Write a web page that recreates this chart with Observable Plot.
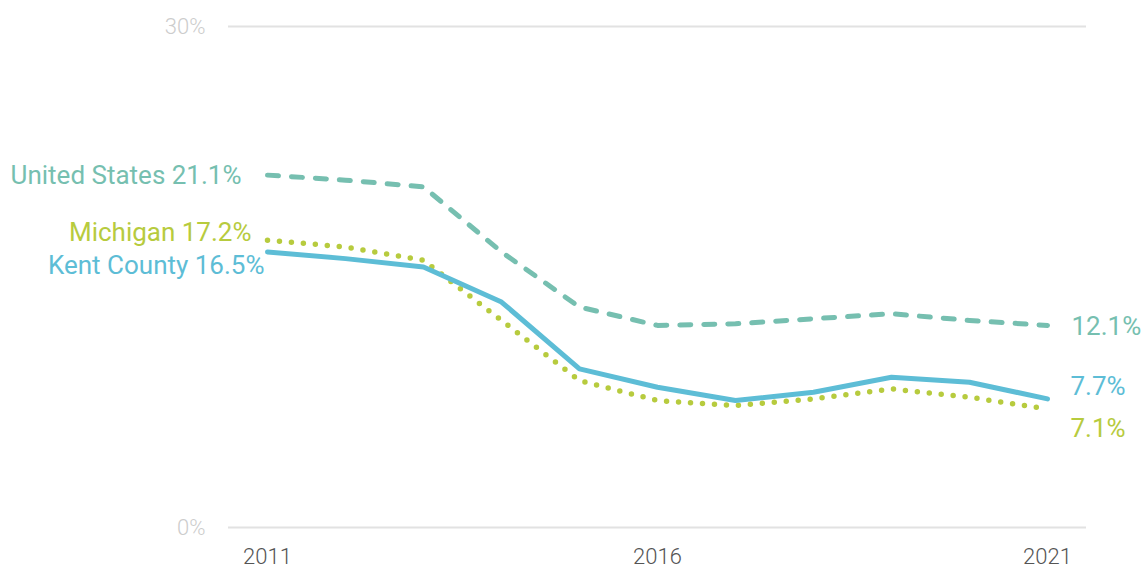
<!DOCTYPE html>
<html>
<head>
<meta charset="utf-8">
<script src="https://cdn.jsdelivr.net/npm/d3@7"></script>
<script src="https://cdn.jsdelivr.net/npm/@observablehq/plot@0.6"></script>
<style>
  html, body { margin: 0; padding: 0; background: #fff; }
  #chart svg { display: block; }
</style>
</head>
<body>
<div id="chart"></div>
<script>
const years = [2011, 2012, 2013, 2014, 2015, 2016, 2017, 2018, 2019, 2020, 2021];
const seriesNames = ["United States", "Michigan", "Kent County"];
const usValues = [21.1, 20.8, 20.4, 16.5, 13.2, 12.1, 12.2, 12.5, 12.8, 12.4, 12.1];
const miValues = [17.2, 16.8, 16.0, 12.4, 8.8, 7.6, 7.3, 7.7, 8.3, 7.8, 7.1];
const kentValues = [16.5, 16.1, 15.6, 13.5, 9.5, 8.4, 7.6, 8.1, 9.0, 8.7, 7.7];
const yTicks = [0, 30];
const xTicks = [2011, 2016, 2021];

const colors = {"United States": "#76bfb0", "Michigan": "#b7cb3e", "Kent County": "#5dbdd6"};

const toRows = (name, vals) => years.map((year, i) => ({name, year, value: vals[i]}));
const us = toRows(seriesNames[0], usValues);
const mi = toRows(seriesNames[1], miValues);
const kent = toRows(seriesNames[2], kentValues);

const first = rows => [rows[0]];
const last = rows => [rows[rows.length - 1]];
const labelFont = {fontSize: 26, fontWeight: 400};

const chart = Plot.plot({
  width: 1145,
  height: 570,
  marginLeft: 228,
  marginRight: 59,
  marginTop: 26,
  marginBottom: 43,
  style: {fontFamily: "Roboto, 'Noto Sans', sans-serif", background: "#fff"},
  x: {domain: [2010.5, 2021.5]},
  y: {domain: [0, 30]},
  marks: [
    Plot.ruleY(yTicks, {stroke: "#e2e2e2", strokeWidth: 2}),
    Plot.axisY({ticks: yTicks, tickFormat: d => d + "%", tickSize: 0, tickPadding: 23, fontSize: 22, fontWeight: 300, fill: "#cccccc", label: null}),
    Plot.axisX({ticks: xTicks, tickFormat: d => String(d), tickSize: 0, tickPadding: 21, fontSize: 22, fontWeight: 300, fill: "#555555", label: null}),
    Plot.line(us, {x: "year", y: "value", stroke: colors["United States"], strokeWidth: 5, strokeDasharray: "11,13", strokeLinecap: "round", strokeLinejoin: "round"}),
    Plot.line(mi, {x: "year", y: "value", stroke: colors["Michigan"], strokeWidth: 5.5, strokeDasharray: "0,12", strokeLinecap: "round", strokeLinejoin: "round"}),
    Plot.line(kent, {x: "year", y: "value", stroke: colors["Kent County"], strokeWidth: 5, strokeLinecap: "round", strokeLinejoin: "round"}),
    Plot.text(first(us), {x: "year", y: "value", text: d => `${d.name} ${d.value.toFixed(1)}%`, textAnchor: "end", dx: -26, dy: 1, fill: colors["United States"], ...labelFont}),
    Plot.text(first(mi), {x: "year", y: "value", text: d => `${d.name} ${d.value.toFixed(1)}%`, textAnchor: "end", dx: -16, dy: -8, fill: colors["Michigan"], ...labelFont}),
    Plot.text(first(kent), {x: "year", y: "value", text: d => `${d.name} ${d.value.toFixed(1)}%`, textAnchor: "end", dx: -3, dy: 14, fill: colors["Kent County"], ...labelFont}),
    Plot.text(last(us), {x: "year", y: "value", text: d => `${d.value.toFixed(1)}%`, textAnchor: "start", dx: 24, dy: 1, fill: colors["United States"], ...labelFont}),
    Plot.text(last(kent), {x: "year", y: "value", text: d => `${d.value.toFixed(1)}%`, textAnchor: "start", dx: 23, dy: -12, fill: colors["Kent County"], ...labelFont}),
    Plot.text(last(mi), {x: "year", y: "value", text: d => `${d.value.toFixed(1)}%`, textAnchor: "start", dx: 23, dy: 20, fill: colors["Michigan"], ...labelFont})
  ]
});
document.getElementById("chart").appendChild(chart);
</script>
</body>
</html>
